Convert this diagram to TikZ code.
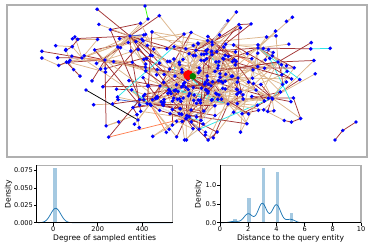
\documentclass[tikz,border=0pt]{standalone}
\usepackage{fontspec}
\setmainfont{DejaVu Sans}
\usetikzlibrary{calc}
\definecolor{tanE}{HTML}{DDB68C}
\definecolor{brownE}{HTML}{A23434}
\definecolor{paleE}{HTML}{DCEBFA}
\definecolor{cyanE}{HTML}{2EE6E6}
\definecolor{orangeE}{HTML}{FF7F50}
\definecolor{royalE}{HTML}{4169E1}
\definecolor{dotblue}{HTML}{0000FF}
\definecolor{barblue}{HTML}{A5C9E1}
\definecolor{kdeblue}{HTML}{1F77B4}
\definecolor{framegray}{HTML}{B0B0B0}
\begin{document}
\begin{tikzpicture}[x=1pt,y=-1pt,
  edge/.style={line width=0.75pt},
  dot/.style={circle,fill=dotblue,inner sep=0pt,minimum size=3.9pt},
  querynode/.style={circle,fill=red,inner sep=0pt,minimum size=10pt},
  targetnode/.style={circle,fill=green!50!black,inner sep=0pt,minimum size=6.6pt},
  ticklab/.style={font=\fontsize{6.6}{7}\selectfont,inner sep=0.8pt},
  axlab/.style={font=\fontsize{7.6}{8}\selectfont,inner sep=0pt},
  spineTR/.style={draw=framegray,line width=1.3pt},
  spineLB/.style={draw=black,line width=0.8pt},
  tick/.style={draw=black,line width=0.7pt}]
\useasboundingbox (0,0) rectangle (371,247);

% ---------------- graph panel ----------------
\node[draw=framegray,line width=1.3pt,minimum width=360pt,minimum height=152pt,inner sep=0pt] (frame) at (187,81) {};

\pgfmathsetseed{2024}
\foreach \k/\hx/\hy in {0/188/75,1/160/86,2/130/36,3/238/78,4/212/42,5/258/48,6/105/60,7/150/104,8/278/62,9/228/104,10/82/58,11/272/98,12/186/118}{
  \expandafter\xdef\csname gx\k\endcsname{\hx}
  \expandafter\xdef\csname gy\k\endcsname{\hy}
  \coordinate (v\k) at (\hx,\hy);
}
\foreach \k in {1,...,12}{\draw[edge,brownE] (v\k) -- (v0);}
\draw[edge,brownE] (v1) -- (v7);
\draw[edge,tanE] (v2) -- (v6);

\foreach \i in {13,...,330}{
  \pgfmathsetmacro\wa{rnd}
  \ifdim\wa pt<0.5pt
    \pgfmathtruncatemacro\pp{random(0,12)}
  \else
    \pgfmathtruncatemacro\pp{random(0,\i-1)}
  \fi
  \pgfmathsetmacro\ua{max(rnd,0.01)}
  \pgfmathsetmacro\va{rnd}
  \pgfmathsetmacro\rr{sqrt(-2*ln(\ua))}
  \ifnum\pp<13 \def\sx{30}\def\sy{16}\else\def\sx{15}\def\sy{9}\fi
  \pgfmathsetmacro\nx{\csname gx\pp\endcsname+\sx*\rr*cos(360*\va)}
  \pgfmathsetmacro\ny{\csname gy\pp\endcsname+\sy*\rr*sin(360*\va)}
  \pgfmathsetmacro\nx{\nx<40 ? 80-\nx : \nx}
  \pgfmathsetmacro\nx{\nx>346 ? 692-\nx : \nx}
  \pgfmathsetmacro\ny{\ny<9 ? 18-\ny : \ny}
  \pgfmathsetmacro\ny{\ny>140 ? 280-\ny : \ny}
  \pgfmathsetmacro\nx{min(max(\nx,40),346)}
  \pgfmathsetmacro\ny{min(max(\ny,9),140)}
  \expandafter\xdef\csname gx\i\endcsname{\nx}
  \expandafter\xdef\csname gy\i\endcsname{\ny}
  \coordinate (v\i) at (\nx,\ny);
  \pgfmathsetmacro\cc{rnd}
  \ifdim\cc pt<0.48pt \def\ec{tanE}\else
  \ifdim\cc pt<0.86pt \def\ec{brownE}\else
  \ifdim\cc pt<0.93pt \def\ec{paleE}\else
  \ifdim\cc pt<0.965pt \def\ec{cyanE}\else
  \ifdim\cc pt<0.985pt \def\ec{orangeE}\else \def\ec{royalE}\fi\fi\fi\fi\fi
  \draw[edge,draw=\ec] (v\i) -- (v\pp);
}

\foreach \t in {1,...,360}{
  \pgfmathtruncatemacro\ia{random(0,330)}
  \pgfmathsetmacro\wa{rnd}
  \ifdim\wa pt<0.55pt
    \pgfmathtruncatemacro\ib{random(0,12)}
  \else
    \pgfmathtruncatemacro\ib{random(0,330)}
  \fi
  \pgfmathsetmacro\dd{veclen(\csname gx\ia\endcsname-\csname gx\ib\endcsname,\csname gy\ia\endcsname-\csname gy\ib\endcsname)}
  \pgfmathsetmacro\cc{rnd}
  \ifdim\cc pt<0.55pt \def\ec{tanE}\else
  \ifdim\cc pt<0.9pt \def\ec{brownE}\else
  \ifdim\cc pt<0.97pt \def\ec{paleE}\else \def\ec{cyanE}\fi\fi\fi
  \ifdim\dd pt<80pt
    \ifnum\ia=\ib\else
      \draw[edge,draw=\ec] (v\ia) -- (v\ib);
    \fi
  \fi
}

% special components
\coordinate (b1) at (86,90);
\coordinate (b2) at (138,120);
\coordinate (g1) at (145,6);
\coordinate (g2) at (148,19);
\coordinate (r1) at (335,140);
\coordinate (r2) at (342.7,130.5);
\coordinate (r3) at (356,122);
\draw[edge,black] (b1) -- (b2);
\draw[edge,tanE] (b2) -- (v7);
\draw[edge,green!80!yellow] (g1) -- (g2);
\draw[edge,tanE] (g2) -- (v2);
\draw[edge,brownE] (r1) -- (r2) -- (r3);

\foreach \i in {0,...,330}{\node[dot] (d\i) at (v\i) {};}
\foreach \s in {b1,b2,g1,g2,r1,r2,r3}{\node[dot] (d\s) at (\s) {};}
\node[querynode] (query) at (188.3,75) {};
\node[targetnode] (target) at (192.8,76.3) {};

% ---------------- left plot ----------------
\fill[barblue] (53.3,168.3) rectangle (56.7,222.7);
\draw[kdeblue,line width=0.75pt] plot[domain=38:172,samples=160] (\x,{222.7-14.4*exp(-((\x-55.7)*(\x-55.7))/50)});
\draw[spineTR] (36.7,165.3) -- (172.7,165.3) -- (172.7,222.7);
\draw[spineLB] (36.7,165.3) -- (36.7,222.7) -- (172.7,222.7);
\foreach \v/\lab in {0/0.000,1/0.025,2/0.050,3/0.075}{
  \draw[tick] (36.7,{222.7-17.4*\v}) -- (33.9,{222.7-17.4*\v});
  \node[ticklab,anchor=east] (ly\v) at (33.9,{222.7-17.4*\v}) {\lab};
}
\foreach \v in {0,200,400}{
  \draw[tick] ({53.3+0.222*\v},222.7) -- ({53.3+0.222*\v},225.5);
  \node[ticklab,anchor=north] (lx\v) at ({53.3+0.222*\v},225.5) {\v};
}
\node[axlab] (lxl) at (104.7,238.5) {Degree of sampled entities};
\node[axlab,rotate=90] (lyl) at (8.5,194) {Density};

% ---------------- right plot ----------------
\foreach \k/\h in {1/0.10,2/0.67,3/1.45,4/1.35,5/0.26}{
  \fill[barblue] ({220+14.1*(\k+0.07)-1.75},{222.7-37.5*\h}) rectangle ({220+14.1*(\k+0.07)+1.75},222.7);
}
\draw[kdeblue,line width=0.75pt] plot[domain=0:6.1,samples=220] ({220+14.1*\x},{222.7-37.5*(
  0.027*exp(-((\x-1)*(\x-1))/0.18)+
  0.179*exp(-((\x-2)*(\x-2))/0.18)+
  0.387*exp(-((\x-3)*(\x-3))/0.18)+
  0.360*exp(-((\x-4)*(\x-4))/0.18)+
  0.067*exp(-((\x-5)*(\x-5))/0.18))/0.752});
\draw[spineTR] (220,165.3) -- (361,165.3) -- (361,222.7);
\draw[spineLB] (220,165.3) -- (220,222.7) -- (361,222.7);
\foreach \v/\lab in {0/0.0,1/0.5,2/1.0}{
  \draw[tick] (220,{222.7-18.75*\v}) -- (217.2,{222.7-18.75*\v});
  \node[ticklab,anchor=east] (ry\v) at (217.2,{222.7-18.75*\v}) {\lab};
}
\foreach \v in {0,2,4,6,8,10}{
  \draw[tick] ({220+14.1*\v},222.7) -- ({220+14.1*\v},225.5);
  \node[ticklab,anchor=north] (rx\v) at ({220+14.1*\v},225.5) {\v};
}
\node[axlab] (rxl) at (290.5,238.5) {Distance to the query entity};
\node[axlab,rotate=90] (ryl) at (198.5,194) {Density};
\end{tikzpicture}
\end{document}
